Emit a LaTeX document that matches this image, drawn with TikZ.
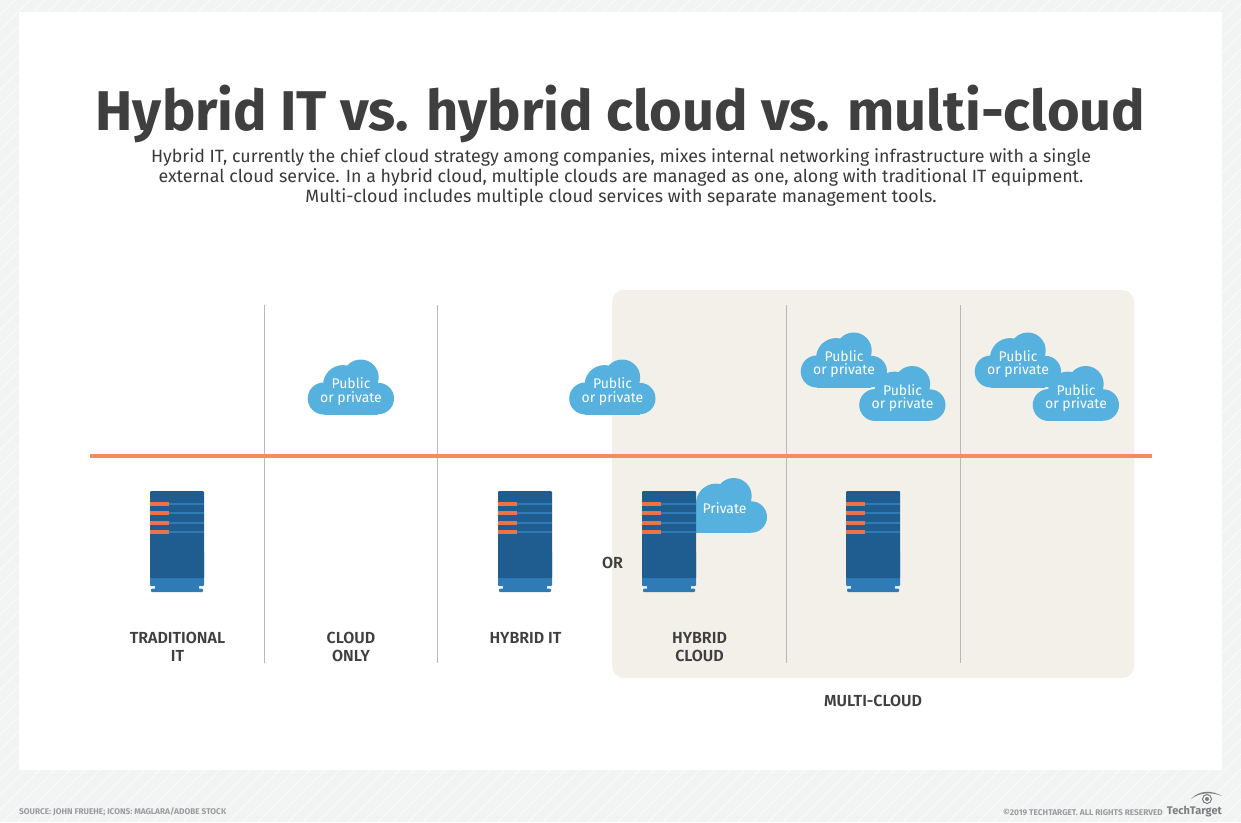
\documentclass[tikz,border=0pt]{standalone}
\usepackage{fontspec}
\setmainfont{Fira Sans}
\newfontfamily\semif{Fira Sans SemiBold}
\definecolor{bgg}{HTML}{F2F3F3}
\definecolor{panel}{HTML}{F3F0EA}
\definecolor{ink}{HTML}{3F3F3F}
\definecolor{orangeline}{HTML}{F68B62}
\definecolor{cloudblue}{HTML}{56B1DE}
\definecolor{srv}{HTML}{1F5C8F}
\definecolor{srvlight}{HTML}{2E7BB6}
\definecolor{srvorange}{HTML}{EE7148}
\definecolor{foot}{HTML}{9A9C9E}
\tikzset{
  cloudtext/.style={text=white,align=center,font=\fontsize{14}{13.6}\selectfont,inner sep=0pt},
  lab/.style={text=ink,align=center,font=\fontsize{16}{18}\selectfont\semif,inner sep=0pt},
  divider/.style={draw=black!28,line width=0.8pt},
  footer/.style={text=foot,font=\fontsize{8.3}{9}\selectfont\bfseries,inner sep=0pt},
  pics/cloudshape/.style={code={
    \fill[cloudblue] (15.7,39) circle (16) (70.3,39) circle (15.7)
      (35,25.6) circle (20) (52.7,18) circle (18);
    \fill[cloudblue] (15.7,30) rectangle (70.3,55);
  }},
  pics/rack/.style={code={
    \fill[srvlight,rounded corners=1pt] (0,60) rectangle (54,95);
    \fill[srv,rounded corners=1pt] (0,0) rectangle (54,87);
    \foreach \yy in {13,22,32,41}{
      \fill[srvlight] (0,\yy-1.2) rectangle (54,\yy+1.2);
      \fill[srvorange] (0,\yy-1.8) rectangle (19,\yy+1.8);
    }
    \fill[srvlight] (5,95) rectangle (49,98);
    \fill[srvlight,rounded corners=1pt] (1,97.5) rectangle (53,101);
  }}
}
\begin{document}
\begin{tikzpicture}[x=1pt,y=-1pt]
\useasboundingbox (0,0) rectangle (1241,822);
\fill[bgg] (0,0) rectangle (1241,822);
\begin{scope}
\clip (0,0) rectangle (1241,822);
\foreach \k in {0,15,...,2070}{
  \draw[white,line width=0.5pt] (\k,0) -- (\k-822,822);
}
\end{scope}
\fill[white] (19,12) rectangle (1222,770);
\fill[panel,rounded corners=12pt] (612,290) rectangle (1134,678);

\node[text=ink,font=\fontsize{56}{58}\selectfont\bfseries,inner sep=0pt] (title) at (620.5,114) {Hybrid IT vs. hybrid cloud vs. multi-cloud};
\node[text=ink!90!black,align=center,font=\fontsize{17.8}{20}\selectfont,inner sep=0pt] (intro) at (621,177) {Hybrid IT, currently the chief cloud strategy among companies, mixes internal networking infrastructure with a single\\external cloud service. In a hybrid cloud, multiple clouds are managed as one, along with traditional IT equipment.\\Multi-cloud includes multiple cloud services with separate management tools.};

\coordinate (d1a) at (264,305); \coordinate (d1b) at (264,663);
\coordinate (d2a) at (437.5,305); \coordinate (d2b) at (437.5,663);
\coordinate (d3a) at (786,305); \coordinate (d3b) at (786,663);
\coordinate (d4a) at (960,305); \coordinate (d4b) at (960,663);
\draw[divider] (d1a) -- (d1b);
\draw[divider] (d2a) -- (d2b);
\draw[divider] (d3a) -- (d3b);
\draw[divider] (d4a) -- (d4b);

\coordinate (hl) at (90,456); \coordinate (hr) at (1152,456);
\draw[orangeline,line width=3.6pt] (hl) -- (hr);

\pic at (308,359.5) {cloudshape};
\pic at (569.5,359.5) {cloudshape};
\pic at (801,332.5) {cloudshape};
\pic at (859.5,366) {cloudshape};
\pic at (975,332.5) {cloudshape};
\pic at (1033,366) {cloudshape};
\pic at (681,478) {cloudshape};

\pic at (150,491) {rack};
\pic at (498,491) {rack};
\pic at (642,491) {rack};
\pic at (846,491) {rack};

\node[cloudtext] (c1) at (351,391.5) {Public\\or private};
\node[cloudtext] (c2) at (612.5,391.5) {Public\\or private};
\node[cloudtext] (c3) at (844,364) {Public\\or private};
\node[cloudtext] (c4) at (902.5,398) {Public\\or private};
\node[cloudtext] (c5) at (1018,364) {Public\\or private};
\node[cloudtext] (c6) at (1076,398) {Public\\or private};
\node[cloudtext] (c7) at (724.5,508.5) {Private};

\node[lab] (or) at (612.5,563) {OR};
\node[lab] (l1) at (177.5,646.5) {TRADITIONAL\\IT};
\node[lab] (l2) at (351,647) {CLOUD\\ONLY};
\node[lab] (l3) at (525.5,638) {HYBRID IT};
\node[lab] (l4) at (699.5,647) {HYBRID\\CLOUD};
\node[lab] (l5) at (873,700.5) {MULTI-CLOUD};

\node[footer,anchor=west] (src) at (19,812) {SOURCE: JOHN FRUEHE; ICONS: MAGLARA/ADOBE STOCK};
\node[footer,anchor=east] (copy) at (1163,812) {©2019 TECHTARGET. ALL RIGHTS RESERVED};
\node[text=foot!80!black,font=\fontsize{11}{12}\selectfont\bfseries,inner sep=0pt,anchor=east] (logo) at (1222,812) {TechTarget};
\fill[foot!80!black] (1191,799) .. controls (1199,790) and (1212,790) .. (1222,796) .. controls (1212,792) and (1200,792) .. (1191,799) -- cycle;
\draw[foot!80!black,line width=1pt] (1207,799) circle (4.5);
\fill[foot!80!black] (1207,799) circle (2);
\end{tikzpicture}
\end{document}
